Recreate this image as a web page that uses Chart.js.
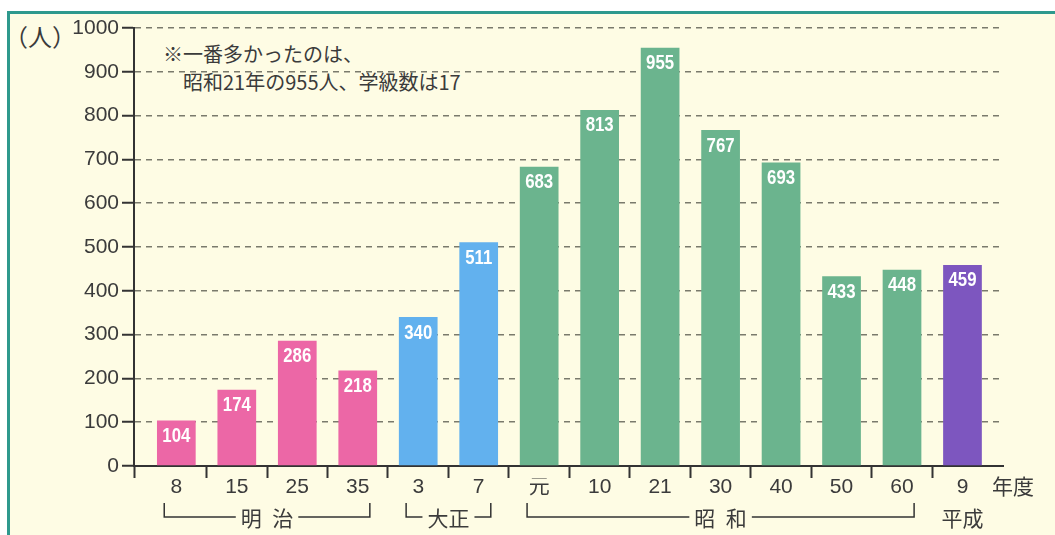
<!DOCTYPE html>
<html lang="ja">
<head>
<meta charset="utf-8">
<script src="https://cdn.jsdelivr.net/npm/chart.js@4.4.1/dist/chart.umd.min.js"></script>
<style>
  body { margin: 0; background: #ffffff; }
  .page { position: relative; width: 1055px; height: 535px; overflow: hidden; background: #ffffff; }
  .frame {
    position: absolute; left: 7px; top: 11px; width: 1100px; height: 600px;
    border-top: 3px solid #2e998d; border-left: 3px solid #2e998d;
    background: #fefce4;
  }
  .unit, .note {
    position: absolute; color: #3b3b3b;
    font-family: "Noto Sans CJK JP", "Noto Sans", sans-serif; white-space: nowrap;
  }
  .unit { left: 4px; top: 21px; font-size: 24px; line-height: 30px; }
  .note { font-size: 20px; line-height: 26px; }
  canvas { position: absolute; left: 0; top: 0; }
</style>
</head>
<body>
<div class="page">
  <div class="frame"></div>
  <div class="unit">（人）</div>
  <div class="note" style="left:163px; top:41px;">※一番多かったのは、</div>
  <div class="note" style="left:183px; top:69px;">昭和21年の955人、学級数は17</div>
  <canvas id="chart" width="1055" height="535"></canvas>
</div>
<script>
// 年度ごとの児童数
const years = ["8", "15", "25", "35", "3", "7", "元", "10", "21", "30", "40", "50", "60", "9"];
const students = [104, 174, 286, 218, 340, 511, 683, 813, 955, 767, 693, 433, 448, 459];

// 元号 (first / last bar index)
const eraNames = ["明\u2002治", "大正", "昭\u2002和", "平成"];
const eraFirst = [0, 4, 6, 13];
const eraLast = [3, 5, 12, 13];
const eraColors = ["#ec67a6", "#62b1ee", "#6bb48e", "#7d56bf"];

const yMax = 1000;
const yStep = 100;

const numFont = "'Liberation Sans', 'Noto Sans CJK JP', sans-serif";
const jpFont = "'Noto Sans CJK JP', 'Noto Sans', sans-serif";
const textColor = "#3b3b3b";
const axisColor = "#333333";

const xMin = -0.7;
const xMax = 13.67;

const barColors = students.map((_, i) => {
  const era = eraFirst.findIndex((f, k) => i >= f && i <= eraLast[k]);
  return eraColors[era];
});

const valueLabels = {
  id: "valueLabels",
  afterDatasetsDraw(chart) {
    const { ctx } = chart;
    const meta = chart.getDatasetMeta(0);
    ctx.save();
    ctx.fillStyle = "#ffffff";
    ctx.font = "bold 20px " + numFont;
    ctx.textAlign = "center";
    ctx.textBaseline = "middle";
    meta.data.forEach((bar, i) => {
      // condensed look
      ctx.save();
      ctx.translate(bar.x, bar.y + 16);
      ctx.scale(0.84, 1);
      ctx.fillText(String(students[i]), 0, 0);
      ctx.restore();
    });
    ctx.restore();
  },
};

const eraLabels = {
  id: "eraLabels",
  afterDraw(chart) {
    const { ctx, chartArea } = chart;
    const x = chart.scales.x;
    const top = chartArea.bottom + 37;
    const lineY = chartArea.bottom + 51;
    ctx.save();
    ctx.font = "21px " + jpFont;
    ctx.fillStyle = textColor;
    ctx.strokeStyle = axisColor;
    ctx.lineWidth = 1.5;
    ctx.textAlign = "center";
    ctx.textBaseline = "middle";
    eraNames.forEach((name, k) => {
      const x1 = x.getPixelForValue(eraFirst[k] - 0.2);
      const x2 = x.getPixelForValue(eraLast[k] + 0.2);
      const mid = (x1 + x2) / 2;
      if (eraFirst[k] !== eraLast[k]) {
        const half = ctx.measureText(name).width / 2 + 5;
        ctx.beginPath();
        ctx.moveTo(x1, top);
        ctx.lineTo(x1, lineY);
        ctx.lineTo(mid - half, lineY);
        ctx.moveTo(mid + half, lineY);
        ctx.lineTo(x2, lineY);
        ctx.lineTo(x2, top);
        ctx.stroke();
      }
      ctx.fillText(name, mid, lineY + 1);
    });
    ctx.textAlign = "left";
    ctx.fillText("年度", chartArea.right - 11, chartArea.bottom + 20);
    ctx.restore();
  },
};

new Chart(document.getElementById("chart"), {
  type: "bar",
  data: {
    datasets: [
      {
        data: students.map((v, i) => ({ x: i, y: v })),
        backgroundColor: barColors,
        borderWidth: 0,
        barPercentage: 0.64,
        categoryPercentage: 1,
        xAxisID: "x",
        yAxisID: "y",
      },
    ],
  },
  options: {
    responsive: false,
    devicePixelRatio: 1,
    animation: false,
    layout: { padding: { left: 0, top: 28, right: 52, bottom: 0 } },
    plugins: { legend: { display: false }, tooltip: { enabled: false } },
    scales: {
      x: {
        type: "linear",
        position: "bottom",
        min: xMin,
        max: xMax,
        offset: false,
        weight: 0,
        afterBuildTicks: (scale) => {
          const ticks = [{ value: xMin }];
          for (let i = 0; i < years.length - 1; i++) ticks.push({ value: i + 0.5 });
          scale.ticks = ticks;
        },
        afterFit: (scale) => {
          scale.height = 12;
        },
        ticks: { display: false },
        grid: {
          offset: false,
          drawOnChartArea: false,
          drawTicks: true,
          tickLength: 12,
          tickColor: axisColor,
          tickWidth: 2,
          tickBorderDash: [],
        },
        border: { display: true, color: axisColor, width: 2 },
      },
      x2: {
        type: "linear",
        position: "bottom",
        min: xMin,
        max: xMax,
        offset: false,
        weight: 1,
        afterBuildTicks: (scale) => {
          scale.ticks = years.map((_, i) => ({ value: i }));
        },
        afterFit: (scale) => {
          scale.height = 57;
        },
        ticks: {
          autoSkip: false,
          maxRotation: 0,
          padding: -3,
          color: textColor,
          font: { family: numFont, size: 21 },
          callback: (value) => years[value],
        },
        grid: { display: false, drawTicks: false, offset: false },
        border: { display: false },
      },
      y: {
        min: 0,
        max: yMax,
        afterFit: (scale) => {
          scale.width = 134;
        },
        ticks: {
          stepSize: yStep,
          padding: 3,
          color: textColor,
          font: { family: numFont, size: 21 },
          callback: (value) => String(value),
        },
        grid: {
          color: "#7a7a6c",
          lineWidth: 1.5,
          drawTicks: true,
          tickLength: 12,
          tickColor: axisColor,
          tickWidth: 2,
          tickBorderDash: [],
        },
        border: { display: true, color: axisColor, width: 2, dash: [6, 5] },
      },
    },
  },
  plugins: [valueLabels, eraLabels],
});
</script>
</body>
</html>
